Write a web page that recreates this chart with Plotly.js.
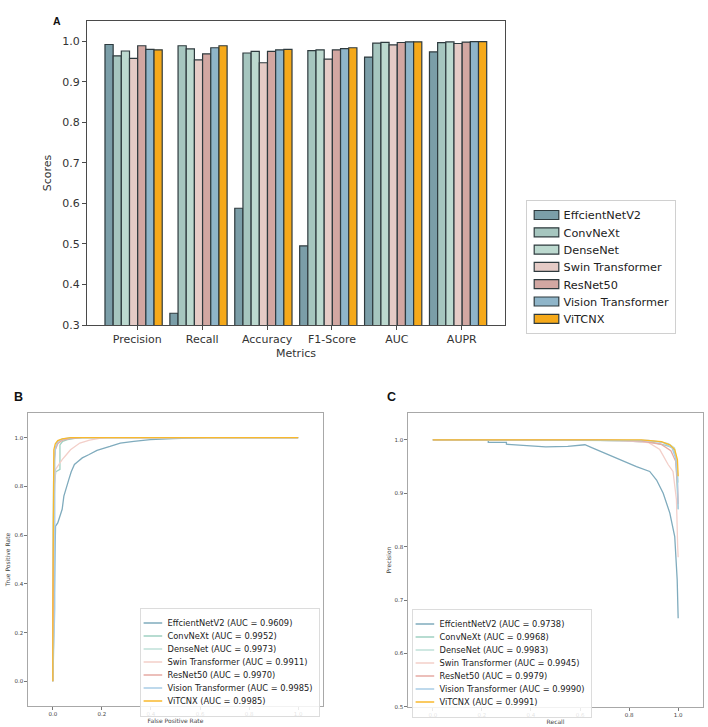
<!DOCTYPE html>
<html>
<head>
<meta charset="utf-8">
<script src="https://cdn.plot.ly/plotly-3.0.1.min.js"></script>
<style>
  html, body { margin: 0; padding: 0; background: #ffffff; }
  #chart { width: 708px; height: 727px; }
</style>
</head>
<body>
<div id="chart"></div>
<script>
// ---------------- DATA ----------------
const models = ['EffcientNetV2', 'ConvNeXt', 'DenseNet', 'Swin Transformer', 'ResNet50', 'Vision Transformer', 'ViTCNX'];
const metrics = ['Precision', 'Recall', 'Accuracy', 'F1-Score', 'AUC', 'AUPR'];

// Panel A: scores per model, in metric order
const effnetScores = [0.992, 0.329, 0.588, 0.495, 0.9609, 0.9738];
const convnextScores = [0.964, 0.989, 0.971, 0.977, 0.9952, 0.9968];
const densenetScores = [0.976, 0.981, 0.975, 0.979, 0.9973, 0.9983];
const swinScores = [0.958, 0.954, 0.947, 0.956, 0.9911, 0.9945];
const resnetScores = [0.989, 0.969, 0.975, 0.979, 0.9970, 0.9979];
const vitScores = [0.980, 0.984, 0.979, 0.982, 0.9985, 0.9990];
const vitcnxScores = [0.979, 0.989, 0.980, 0.984, 0.9985, 0.9991];

// Panel B: ROC curves
const rocAuc = [0.9609, 0.9952, 0.9973, 0.9911, 0.9970, 0.9985, 0.9985];
const effnetFpr = [0, 0.005, 0.008, 0.011, 0.02, 0.03, 0.038, 0.045, 0.055, 0.065, 0.075, 0.088, 0.10, 0.12, 0.146, 0.18, 0.233, 0.275, 0.33, 0.397, 0.49, 0.63, 1.0];
const effnetTpr = [0, 0.30, 0.50, 0.637, 0.65, 0.68, 0.706, 0.76, 0.79, 0.828, 0.86, 0.89, 0.90, 0.917, 0.93, 0.948, 0.964, 0.978, 0.985, 0.992, 0.996, 1.0, 1.0];
const convnextFpr = [0, 0.0, 0.005, 0.012, 0.029, 0.029, 0.04, 0.06, 0.09, 0.12, 1.0];
const convnextTpr = [0, 0.50, 0.80, 0.86, 0.87, 0.97, 0.985, 0.992, 0.997, 1.0, 1.0];
const densenetFpr = [0, 0.0, 0.004, 0.01, 0.02, 0.04, 0.08, 1.0];
const densenetTpr = [0, 0.60, 0.90, 0.95, 0.98, 0.992, 1.0, 1.0];
const swinFpr = [0, 0.003, 0.011, 0.02, 0.038, 0.055, 0.072, 0.11, 0.15, 0.19, 0.22, 1.0];
const swinTpr = [0, 0.70, 0.87, 0.885, 0.91, 0.93, 0.95, 0.978, 0.99, 0.997, 1.0, 1.0];
const resnetFpr = [0, 0.002, 0.005, 0.01, 0.02, 0.04, 0.07, 0.12, 1.0];
const resnetTpr = [0, 0.70, 0.90, 0.95, 0.975, 0.99, 0.996, 1.0, 1.0];
const vitFpr = [0, 0.008, 0.008, 0.01, 0.02, 0.04, 0.08, 1.0];
const vitTpr = [0, 0.30, 0.90, 0.96, 0.985, 0.995, 1.0, 1.0];
const vitcnxFpr = [0, 0.0, 0.004, 0.01, 0.02, 0.038, 0.072, 0.10, 1.0];
const vitcnxTpr = [0, 0.30, 0.95, 0.975, 0.988, 0.995, 1.0, 1.0, 1.0];

// Panel C: precision-recall curves
const prAuc = [0.9738, 0.9968, 0.9983, 0.9945, 0.9979, 0.9990, 0.9991];
const effnetRecall = [0, 0.226, 0.226, 0.30, 0.30, 0.41, 0.46, 0.55, 0.62, 0.65, 0.68, 0.735, 0.776, 0.83, 0.884, 0.912, 0.939, 0.966, 0.986, 0.993, 0.996, 1.0];
const effnetPrecision = [1.0, 1.0, 0.9955, 0.9955, 0.992, 0.989, 0.987, 0.988, 0.991, 0.985, 0.979, 0.968, 0.960, 0.950, 0.941, 0.925, 0.900, 0.863, 0.819, 0.775, 0.738, 0.666];
const convnextRecall = [0, 0.60, 0.80, 0.90, 0.95, 0.98, 0.99, 0.995, 1.0];
const convnextPrecision = [1.0, 1.0, 0.998, 0.995, 0.990, 0.985, 0.970, 0.930, 0.870];
const densenetRecall = [0, 0.70, 0.85, 0.92, 0.96, 0.985, 0.995, 1.0];
const densenetPrecision = [1.0, 1.0, 0.999, 0.997, 0.993, 0.985, 0.960, 0.920];
const swinRecall = [0, 0.60, 0.80, 0.88, 0.925, 0.959, 0.979, 0.993, 0.998, 1.0];
const swinPrecision = [1.0, 1.0, 0.998, 0.995, 0.982, 0.954, 0.941, 0.888, 0.800, 0.780];
const resnetRecall = [0, 0.70, 0.85, 0.93, 0.97, 0.99, 0.997, 1.0];
const resnetPrecision = [1.0, 1.0, 0.998, 0.992, 0.980, 0.960, 0.920, 0.880];
const vitRecall = [0, 0.75, 0.88, 0.94, 0.975, 0.99, 0.997, 1.0];
const vitPrecision = [1.0, 1.0, 0.999, 0.995, 0.985, 0.965, 0.930, 0.870];
const vitcnxRecall = [0, 0.85, 0.932, 0.966, 0.986, 0.997, 1.0];
const vitcnxPrecision = [1.0, 1.0, 0.997, 0.991, 0.982, 0.963, 0.932];

// ---------------- STYLE ----------------
const barColors = ['#7b9ea8', '#a6c6bf', '#bcd9cf', '#e5cbc6', '#d2a7a2', '#8fb5c9', '#f5a91a'];
const lineColors = ['#7fabbd', '#9fd0c2', '#bfe0d8', '#f3cfc9', '#e6aaa3', '#a9cde6', '#f9b92c'];
const FONT = 'DejaVu Sans, sans-serif';

const W = 708, H = 727;
const px = v => v / W;
const py = v => 1 - v / H;

const allScores = [effnetScores, convnextScores, densenetScores, swinScores, resnetScores, vitScores, vitcnxScores];
const rocX = [effnetFpr, convnextFpr, densenetFpr, swinFpr, resnetFpr, vitFpr, vitcnxFpr];
const rocY = [effnetTpr, convnextTpr, densenetTpr, swinTpr, resnetTpr, vitTpr, vitcnxTpr];
const prX = [effnetRecall, convnextRecall, densenetRecall, swinRecall, resnetRecall, vitRecall, vitcnxRecall];
const prY = [effnetPrecision, convnextPrecision, densenetPrecision, swinPrecision, resnetPrecision, vitPrecision, vitcnxPrecision];

const data = [];
const barW = 0.126;
const groupStart = -0.498;
const metricPos = metrics.map((m, i) => i);

models.forEach((m, i) => {
  data.push({
    type: 'bar', name: m, x: metricPos, y: allScores[i],
    width: barW, offset: groupStart + i * barW,
    marker: { color: barColors[i], line: { color: '#2e3a3e', width: 1.2 } },
    xaxis: 'x', yaxis: 'y', legend: 'legend'
  });
});
models.forEach((m, i) => {
  data.push({
    type: 'scatter', mode: 'lines', name: m + ' (AUC = ' + rocAuc[i].toFixed(4) + ')',
    x: rocX[i], y: rocY[i],
    line: { color: lineColors[i], width: 1.3 },
    xaxis: 'x2', yaxis: 'y2', legend: 'legend2'
  });
});
models.forEach((m, i) => {
  data.push({
    type: 'scatter', mode: 'lines', name: m + ' (AUC = ' + prAuc[i].toFixed(4) + ')',
    x: prX[i], y: prY[i],
    line: { color: lineColors[i], width: 1.3 },
    xaxis: 'x3', yaxis: 'y3', legend: 'legend3'
  });
});

const smallAxis = {
  showline: true, mirror: true, linecolor: '#a8a8a8', linewidth: 1.5,
  ticks: 'outside', ticklen: 2.5, tickwidth: 0.8, tickcolor: '#555',
  tickfont: { family: FONT, size: 5.5, color: '#444' },
  showgrid: false, zeroline: false, tickformat: '.1f'
};

const layout = {
  width: W, height: H,
  margin: { l: 0, r: 0, t: 0, b: 0 },
  paper_bgcolor: '#ffffff', plot_bgcolor: '#ffffff',
  font: { family: FONT, color: '#333' },
  barmode: 'overlay',
  xaxis: {
    domain: [px(87), px(505)], anchor: 'y',
    range: [-0.775, 5.666],
    tickvals: metricPos, ticktext: metrics,
    showline: true, mirror: true, linecolor: '#4a4a4a', linewidth: 1,
    ticks: 'outside', ticklen: 4, tickcolor: '#4a4a4a',
    tickfont: { family: FONT, size: 11, color: '#333' },
    showgrid: false, zeroline: false,
    title: { text: 'Metrics', font: { family: FONT, size: 11, color: '#333' }, standoff: 4 }
  },
  yaxis: {
    domain: [py(325), py(21)], anchor: 'x',
    range: [0.3, 1.05],
    tickvals: [0.3, 0.4, 0.5, 0.6, 0.7, 0.8, 0.9, 1.0], tickformat: '.1f',
    showline: true, mirror: true, linecolor: '#4a4a4a', linewidth: 1,
    ticks: 'outside', ticklen: 4, tickcolor: '#4a4a4a',
    tickfont: { family: FONT, size: 11, color: '#333' },
    showgrid: false, zeroline: false,
    title: { text: 'Scores', font: { family: FONT, size: 11, color: '#333' }, standoff: 8 }
  },
  xaxis2: Object.assign({}, smallAxis, {
    domain: [px(28.3), px(322.7)], anchor: 'y2', range: [-0.1, 1.1],
    tickvals: [0, 0.2, 0.4, 0.6, 0.8, 1.0],
    title: { text: 'False Positive Rate', font: { family: FONT, size: 6, color: '#444' }, standoff: 2 }
  }),
  yaxis2: Object.assign({}, smallAxis, {
    domain: [py(705.7), py(413.3)], anchor: 'x2', range: [-0.1, 1.1],
    tickvals: [0, 0.2, 0.4, 0.6, 0.8, 1.0],
    title: { text: 'True Positive Rate', font: { family: FONT, size: 6, color: '#444' }, standoff: 3 }
  }),
  xaxis3: Object.assign({}, smallAxis, {
    domain: [px(408.3), px(702.7)], anchor: 'y3', range: [-0.1, 1.1],
    tickvals: [0, 0.2, 0.4, 0.6, 0.8, 1.0],
    title: { text: 'Recall', font: { family: FONT, size: 6, color: '#444' }, standoff: 2 }
  }),
  yaxis3: Object.assign({}, smallAxis, {
    domain: [py(706.7), py(413.3)], anchor: 'x3', range: [0.5, 1.05],
    tickvals: [0.5, 0.6, 0.7, 0.8, 0.9, 1.0],
    title: { text: 'Precision', font: { family: FONT, size: 6, color: '#444' }, standoff: 2 }
  }),
  // legends are placed safely inside the page first, then moved to their final spot after drawing
  legend: {
    x: px(526), y: py(200), xanchor: 'left', yanchor: 'top',
    bgcolor: '#ffffff', bordercolor: '#d0d0d0', borderwidth: 1,
    font: { family: FONT, size: 11.3, color: '#222' }, itemwidth: 30, traceorder: 'normal'
  },
  legend2: {
    x: px(140), y: py(540), xanchor: 'left', yanchor: 'top',
    bgcolor: 'rgba(255,255,255,0.85)', bordercolor: '#dcdcdc', borderwidth: 1,
    font: { family: FONT, size: 8.3, color: '#222' }, itemwidth: 30, traceorder: 'normal'
  },
  legend3: {
    x: px(412), y: py(540), xanchor: 'left', yanchor: 'top',
    bgcolor: 'rgba(255,255,255,0.85)', bordercolor: '#dcdcdc', borderwidth: 1,
    font: { family: FONT, size: 8.3, color: '#222' }, itemwidth: 30, traceorder: 'normal'
  },
  annotations: [
    { text: '<b>A</b>', x: px(51), y: py(13), xref: 'paper', yref: 'paper', showarrow: false,
      font: { family: 'Liberation Sans, Arial, sans-serif', size: 10.5, color: '#111' } },
    { text: '<b>B</b>', x: px(12), y: py(397), xref: 'paper', yref: 'paper', showarrow: false,
      font: { family: 'Liberation Sans, Arial, sans-serif', size: 12.5, color: '#111' } },
    { text: '<b>C</b>', x: px(391), y: py(397), xref: 'paper', yref: 'paper', showarrow: false,
      font: { family: 'Liberation Sans, Arial, sans-serif', size: 12.5, color: '#111' } }
  ],
  showlegend: true
};

function fitLegend(cls, opts) {
  const lg = document.querySelector('g.' + cls);
  if (!lg) return;
  const items = Array.from(lg.querySelectorAll('g.traces'));
  const bg = lg.querySelector('rect.bg');
  if (items.length > 1) {
    const tops = items.map(t => t.getBoundingClientRect().top);
    let shiftLast = 0;
    items.forEach((t, i) => {
      const shift = tops[0] + i * opts.step - tops[i];
      shiftLast = shift;
      const tr = t.getAttribute('transform') || '';
      t.setAttribute('transform', 'translate(0,' + shift + ') ' + tr);
    });
    if (bg) bg.setAttribute('height', parseFloat(bg.getAttribute('height')) + shiftLast);
  }
  if (opts.textShift) {
    lg.querySelectorAll('text').forEach(tx => {
      tx.setAttribute('transform', 'translate(' + (-opts.textShift) + ',0)');
    });
    if (bg) bg.setAttribute('width', parseFloat(bg.getAttribute('width')) - opts.textShift);
  }
  if (opts.lineScale) {
    lg.querySelectorAll('g.traces path').forEach(p => {
      const d = p.getAttribute('d') || '';
      if (/h30/.test(d)) {
        p.setAttribute('transform', 'translate(' + opts.lineDx + ',0) scale(' + opts.lineScale + ',1)');
      }
    });
  }
  if (opts.patch) {
    lg.querySelectorAll('path.legendbar, g.legendpoints path').forEach(p => {
      const tr = p.getAttribute('transform') || '';
      p.setAttribute('transform', tr + ' scale(' + opts.patch[0] + ',' + opts.patch[1] + ')');
      p.style.vectorEffect = 'non-scaling-stroke';
    });
  }
  if (bg) {
    const r = bg.getBoundingClientRect();
    const dx = opts.left - r.left, dy = opts.top - r.top;
    const tr = lg.getAttribute('transform') || '';
    lg.setAttribute('transform', 'translate(' + dx + ',' + dy + ') ' + tr);
  }
}

Plotly.newPlot('chart', data, layout, { staticPlot: true }).then(function () {
  fitLegend('legend', { step: 17.3, left: 526, top: 200, textShift: 3, patch: [2.05, 0.75] });
  fitLegend('legend2', { step: 13, left: 140, top: 608, textShift: 13, lineScale: 0.62, lineDx: 0 });
  fitLegend('legend3', { step: 13, left: 412, top: 609, textShift: 13, lineScale: 0.62, lineDx: 0 });
});
</script>
</body>
</html>
